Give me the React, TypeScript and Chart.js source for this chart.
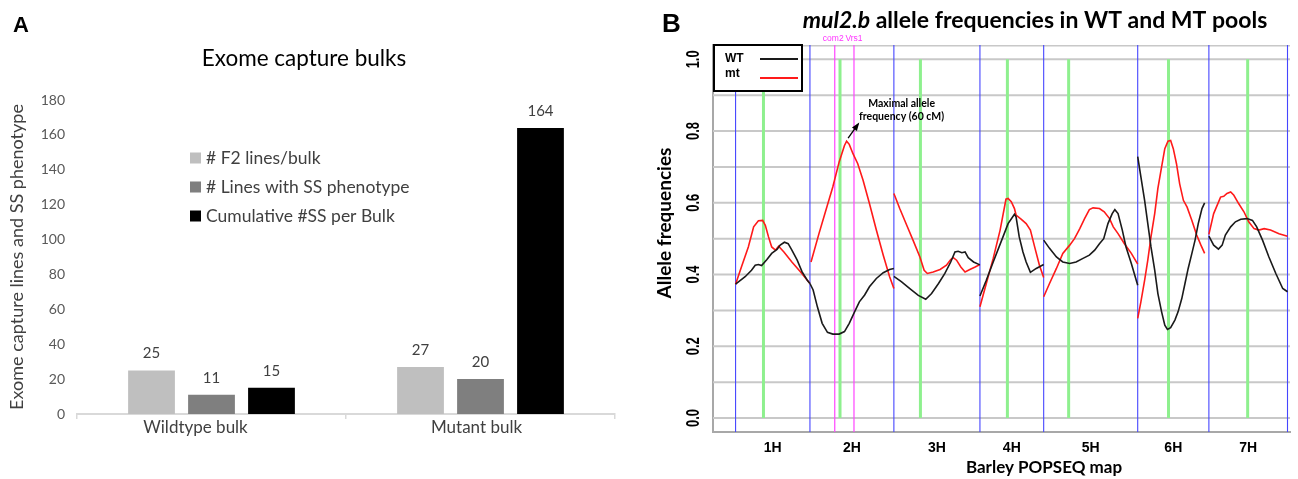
import React, { useEffect, useRef } from "react";
import { Chart, registerables } from "chart.js";
Chart.register(...registerables);

// ---------- Panel A data ----------
const BULKS = ["Wildtype bulk", "Mutant bulk"];
const SERIES_LABELS = ["# F2 lines/bulk", "# Lines with SS phenotype", "Cumulative #SS per Bulk"];
const SERIES_COLORS = ["#bfbfbf", "#7f7f7f", "#000000"];
const F2_LINES_PER_BULK = [25, 27];
const LINES_WITH_SS = [11, 20];
const CUMULATIVE_SS = [15, 164];
const BULK_Y_MAX = 180;
const BULK_Y_STEP = 20;

// ---------- Panel B data ----------
const CHROMOSOMES = ["1H", "2H", "3H", "4H", "5H", "6H", "7H"];
const CHROM_LENGTHS_CM = [140, 158, 162, 120, 177, 134, 148];
const CENTROMERES_CM = [52.5, 56.6, 50, 51.7, 47, 58, 73];
const GENES = ["com2", "Vrs1"];
const GENE_CHROM_INDEX = [1, 1];
const GENE_POS_CM = [46.7, 82.9];
const FREQ_GRID = [0, 0.1, 0.2, 0.3, 0.4, 0.5, 0.6, 0.7, 0.8, 0.9, 1.0];
const FREQ_TICK_LABELS = [0, 0.2, 0.4, 0.6, 0.8, 1.0];
const POOL_NAMES = ["WT", "mt"];
const POOL_COLORS = ["#1a1a1a", "#ff1a1a"];
const PEAK_NOTE = ["Maximal allele", "frequency (60 cM)"];
const PEAK_CHROM_INDEX = 1;

// [position within chromosome (cM), allele frequency]
const WT_1H = [[0,.373],[18,.394],[30,.412],[37,.426],[43,.428],[49,.425],[59,.442],[68,.459],[78,.470],[84,.482],[92,.490],[99,.486],[106,.468],[116,.440],[125,.408],[135,.384],[140,.375]];
const WT_2H = [[0,.375],[6,.357],[14,.310],[23,.264],[33,.239],[43,.234],[55,.234],[65,.241],[74,.264],[84,.296],[93,.324],[103,.343],[112,.366],[125,.389],[138,.405],[150,.414],[158,.417]];
const WT_3H = [[0,.395],[14,.380],[30,.361],[46,.342],[60,.331],[71,.347],[84,.375],[96,.403],[107,.435],[115,.463],[121,.465],[128,.461],[134,.463],[140,.447],[150,.435],[162,.427]];
const WT_4H = [[0,.340],[12,.384],[25,.435],[41,.496],[53,.542],[65,.568],[68,.561],[74,.505],[81,.463],[87,.435],[95,.406],[106,.417],[120,.428]];
const WT_5H = [[0,.496],[11,.473],[24,.449],[36,.435],[49,.431],[61,.435],[74,.445],[86,.454],[96,.468],[105,.486],[113,.500],[121,.542],[129,.570],[134,.581],[140,.570],[148,.524],[155,.477],[165,.431],[177,.370]];
const WT_6H = [[0,.729],[6,.672],[13,.607],[19,.542],[25,.477],[32,.412],[38,.347],[45,.296],[51,.259],[56,.247],[62,.252],[70,.273],[76,.296],[83,.333],[89,.375],[95,.417],[102,.459],[108,.496],[114,.542],[121,.584],[126,.600]];
const WT_7H = [[0,.507],[9,.482],[18,.471],[25,.482],[31,.510],[41,.533],[50,.547],[60,.554],[72,.556],[82,.551],[90,.533],[101,.496],[113,.449],[126,.403],[139,.361],[148,.352]];

const MT_1H = [[0,.373],[11,.421],[24,.477],[34,.533],[43,.550],[51,.551],[56,.537],[62,.505],[68,.477],[75,.468],[81,.479],[91,.463],[106,.435],[122,.408],[140,.375]];
const MT_2H = [[2,.435],[17,.514],[30,.579],[43,.644],[55,.714],[65,.760],[69,.772],[74,.763],[81,.737],[90,.709],[100,.663],[112,.598],[125,.524],[138,.454],[150,.394],[158,.361]];
const MT_3H = [[0,.626],[11,.584],[24,.538],[36,.496],[49,.449],[57,.412],[63,.403],[74,.407],[87,.414],[99,.426],[107,.442],[112,.447],[118,.440],[126,.421],[134,.407],[143,.414],[153,.421],[162,.428]];
const MT_4H = [[0,.310],[12,.375],[25,.445],[38,.524],[49,.610],[53,.612],[59,.603],[65,.584],[68,.566],[78,.554],[87,.542],[95,.524],[103,.477],[112,.426],[120,.392]];
const MT_5H = [[0,.338],[11,.375],[24,.417],[36,.459],[49,.482],[58,.500],[68,.528],[77,.556],[86,.581],[93,.586],[105,.584],[114,.575],[124,.556],[131,.533],[140,.514],[152,.486],[165,.459],[177,.429]];
const MT_6H = [[0,.278],[6,.324],[13,.384],[19,.440],[25,.505],[32,.570],[38,.640],[45,.700],[51,.751],[57,.772],[62,.774],[67,.751],[73,.709],[79,.653],[86,.607],[93,.588],[102,.551],[111,.510],[119,.482],[126,.459]];
const MT_7H = [[0,.512],[9,.570],[22,.616],[28,.618],[34,.626],[41,.630],[47,.621],[56,.598],[66,.575],[75,.547],[85,.528],[94,.524],[104,.528],[116,.524],[132,.514],[148,.507]];

const WT_BY_CHROM = [WT_1H, WT_2H, WT_3H, WT_4H, WT_5H, WT_6H, WT_7H];
const MT_BY_CHROM = [MT_1H, MT_2H, MT_3H, MT_4H, MT_5H, MT_6H, MT_7H];

const CHROM_STARTS = CHROM_LENGTHS_CM.map((_, i) => CHROM_LENGTHS_CM.slice(0, i).reduce((a, b) => a + b, 0));
const GENOME_LENGTH = CHROM_LENGTHS_CM.reduce((a, b) => a + b, 0);
const CHROM_BOUNDARIES = [...CHROM_STARTS, GENOME_LENGTH];
const CHROM_MIDS = CHROM_STARTS.map((s, i) => s + CHROM_LENGTHS_CM[i] / 2);
const X_MIN = -42.5;
const X_MAX = GENOME_LENGTH + 4.7;
const Y_MIN = -0.039;
const Y_MAX = 1.04;

function chromDatasets(byChrom: number[][][], poolIndex: number) {
  return byChrom.map((arr, i) => ({
    label: `${POOL_NAMES[poolIndex]} ${CHROMOSOMES[i]}`,
    data: arr.map(([p, f]) => ({ x: CHROM_STARTS[i] + p, y: f })),
    borderColor: POOL_COLORS[poolIndex],
    borderWidth: 1.6,
    pointRadius: 0,
    tension: 0,
    fill: false,
    order: 0,
  }));
}

function segmentDataset(points: any[], color: string, width: number, order: number) {
  return { data: points, borderColor: color, borderWidth: width, pointRadius: 0, tension: 0, fill: false, order };
}

const guideDatasets = [
  ...FREQ_GRID.map((v) => segmentDataset([{ x: X_MIN, y: v }, { x: X_MAX, y: v }], "#c8c8c8", 2, 100)),
  segmentDataset([{ x: X_MIN, y: Y_MAX }, { x: X_MAX, y: Y_MAX }], "#c8c8c8", 3, 100),
  ...CENTROMERES_CM.map((c, i) => segmentDataset([{ x: CHROM_STARTS[i] + c, y: 0 }, { x: CHROM_STARTS[i] + c, y: 1 }], "#8ef08e", 3, 90)),
  ...CHROM_BOUNDARIES.map((b) => segmentDataset([{ x: b, y: Y_MIN }, { x: b, y: Y_MAX }], "#4646ff", 1.1, 80)),
  ...GENE_POS_CM.map((p, i) => segmentDataset([{ x: CHROM_STARTS[GENE_CHROM_INDEX[i]] + p, y: Y_MIN }, { x: CHROM_STARTS[GENE_CHROM_INDEX[i]] + p, y: Y_MAX }], "#ff44ff", 1.2, 70)),
];

const LATO = "Lato, 'Open Sans', sans-serif";
const ARIAL = "'Liberation Sans', Arial, sans-serif";
const BULK_LABEL_SHIFT = [-16, -4];

const panelAPlugin = {
  id: "panelAExtras",
  afterDatasetsDraw(chart: any) {
    const ctx = chart.ctx;
    const area = chart.chartArea;
    const xs = chart.scales.x;
    ctx.save();
    ctx.font = `15px ${LATO}`;
    ctx.fillStyle = "#404040";
    ctx.textAlign = "center";
    ctx.textBaseline = "middle";
    chart.data.datasets.forEach((ds: any, i: number) => {
      const meta = chart.getDatasetMeta(i);
      meta.data.forEach((el: any, j: number) => {
        ctx.fillText(String(ds.data[j]), el.x, el.y - 17);
      });
    });
    ctx.font = `17px ${LATO}`;
    chart.data.labels.forEach((lab: string, j: number) => {
      ctx.fillText(lab, xs.getPixelForValue(j) + BULK_LABEL_SHIFT[j], area.bottom + 14);
    });
    ctx.textAlign = "left";
    ctx.font = `17.5px ${LATO}`;
    chart.data.datasets.forEach((ds: any, i: number) => {
      const y = area.top + 58 + i * 29;
      const x = area.left + 113;
      ctx.fillStyle = ds.backgroundColor;
      ctx.fillRect(x, y - 5.5, 11, 11);
      ctx.fillStyle = "#404040";
      ctx.fillText(ds.label, x + 16, y);
    });
    ctx.fillStyle = "#000";
    ctx.textAlign = "center";
    ctx.font = `22.5px ${LATO}`;
    ctx.fillText("Exome capture bulks", 304, 59);
    ctx.textAlign = "left";
    ctx.textBaseline = "alphabetic";
    ctx.font = `bold 22px ${ARIAL}`;
    ctx.fillText("A", 13, 32);
    ctx.restore();
  },
};

const panelBPlugin = {
  id: "panelBExtras",
  afterDraw(chart: any) {
    const ctx = chart.ctx;
    const { top, left } = chart.chartArea;
    const xs = chart.scales.x;
    const ys = chart.scales.y;
    ctx.save();
    // gene labels
    ctx.fillStyle = "#ff33ff";
    ctx.font = `8.5px ${ARIAL}`;
    ctx.textAlign = "center";
    ctx.textBaseline = "middle";
    GENES.forEach((g, i) => {
      const x = xs.getPixelForValue(CHROM_STARTS[GENE_CHROM_INDEX[i]] + GENE_POS_CM[i]);
      ctx.fillText(g, x + (i === 0 ? -1.5 : 0), top - 6);
    });
    // y tick labels (rotated)
    ctx.fillStyle = "#000";
    ctx.font = `bold 19px ${ARIAL}`;
    FREQ_TICK_LABELS.forEach((v) => {
      const y = ys.getPixelForValue(v);
      ctx.save();
      ctx.translate(left - 19, y);
      ctx.rotate(-Math.PI / 2);
      ctx.scale(0.68, 1);
      ctx.textAlign = "center";
      ctx.textBaseline = "middle";
      ctx.fillText(v.toFixed(1), 0, 0);
      ctx.restore();
    });
    // y title
    ctx.save();
    ctx.translate(25, 223);
    ctx.rotate(-Math.PI / 2);
    ctx.font = `bold 19px ${LATO}`;
    ctx.textAlign = "center";
    ctx.textBaseline = "middle";
    ctx.fillText("Allele frequencies", 0, 0);
    ctx.restore();
    // x title
    ctx.font = `bold 17px ${LATO}`;
    ctx.textAlign = "center";
    ctx.textBaseline = "middle";
    ctx.fillText("Barley POPSEQ map", 404, 468);
    // main title
    const part1 = "mul2.b";
    const part2 = " allele frequencies in WT and MT pools";
    ctx.font = `italic bold 23px ${LATO}`;
    const w1 = ctx.measureText(part1).width;
    ctx.font = `bold 23px ${LATO}`;
    const w2 = ctx.measureText(part2).width;
    const sx = 395 - (w1 + w2) / 2;
    ctx.textAlign = "left";
    ctx.textBaseline = "alphabetic";
    ctx.font = `italic bold 23px ${LATO}`;
    ctx.fillText(part1, sx, 28);
    ctx.font = `bold 23px ${LATO}`;
    ctx.fillText(part2, sx + w1, 28);
    // panel letter
    ctx.font = `bold 26px ${ARIAL}`;
    ctx.fillText("B", 22, 32);
    // legend box
    ctx.fillStyle = "#fff";
    ctx.fillRect(left + 1, top, 88, 46);
    ctx.strokeStyle = "#000";
    ctx.lineWidth = 2;
    ctx.strokeRect(left + 1, top, 88, 46);
    ctx.font = `bold 12px ${ARIAL}`;
    ctx.textBaseline = "middle";
    POOL_NAMES.forEach((name, i) => {
      const y = top + 14 + i * 15;
      ctx.fillStyle = "#000";
      ctx.fillText(name, left + 12, y);
      ctx.strokeStyle = POOL_COLORS[i];
      ctx.lineWidth = 2;
      ctx.beginPath();
      ctx.moveTo(left + 47, y + i * 4);
      ctx.lineTo(left + 85, y + i * 4);
      ctx.stroke();
    });
    // peak annotation (anchored to maximal mt point on 2H)
    const peakArr = MT_BY_CHROM[PEAK_CHROM_INDEX];
    const peak = peakArr.reduce((a, b) => (b[1] > a[1] ? b : a));
    const px = xs.getPixelForValue(CHROM_STARTS[PEAK_CHROM_INDEX] + peak[0]);
    const py = ys.getPixelForValue(peak[1]);
    const tx = px + 1.5, ty = py - 3;
    const hx = tx + 10, hy = ty - 14;
    ctx.strokeStyle = "#000";
    ctx.fillStyle = "#000";
    ctx.lineWidth = 1.3;
    ctx.beginPath();
    ctx.moveTo(tx, ty);
    ctx.lineTo(hx, hy);
    ctx.stroke();
    const ang = Math.atan2(hy - ty, hx - tx);
    ctx.beginPath();
    ctx.moveTo(hx + Math.cos(ang) * 2, hy + Math.sin(ang) * 2);
    ctx.lineTo(hx - Math.cos(ang - 0.45) * 7, hy - Math.sin(ang - 0.45) * 7);
    ctx.lineTo(hx - Math.cos(ang + 0.45) * 7, hy - Math.sin(ang + 0.45) * 7);
    ctx.closePath();
    ctx.fill();
    ctx.font = `bold 10.5px ${LATO}`;
    ctx.textAlign = "center";
    ctx.fillText(PEAK_NOTE[0], px + 55, py - 38);
    ctx.fillText(PEAK_NOTE[1], px + 55, py - 25);
    ctx.restore();
  },
};

export default function App() {
  const refA = useRef<HTMLCanvasElement>(null);
  const refB = useRef<HTMLCanvasElement>(null);

  useEffect(() => {
    const seriesValues = [F2_LINES_PER_BULK, LINES_WITH_SS, CUMULATIVE_SS];
    const chartA = new Chart(refA.current as HTMLCanvasElement, {
      type: "bar",
      data: {
        labels: BULKS,
        datasets: SERIES_LABELS.map((label, i) => ({
          label,
          data: seriesValues[i],
          backgroundColor: SERIES_COLORS[i],
          categoryPercentage: 0.669,
          barPercentage: 0.78,
        })),
      },
      options: {
        animation: false,
        responsive: false,
        maintainAspectRatio: false,
        layout: { padding: { left: 0, right: 25, top: 100, bottom: 0 } },
        plugins: { legend: { display: false }, tooltip: { enabled: false }, title: { display: false } },
        scales: {
          x: {
            afterFit: (s: any) => { s.height = 65; },
            grid: { display: true, drawOnChartArea: false, drawTicks: true, tickLength: 5, color: "#d9d9d9", lineWidth: 1.5, offset: true },
            border: { display: true, color: "#d9d9d9", width: 2 },
            ticks: { display: false },
          },
          y: {
            min: 0,
            max: BULK_Y_MAX,
            afterFit: (s: any) => { s.width = 77; },
            ticks: { stepSize: BULK_Y_STEP, font: { family: LATO, size: 14 }, color: "#595959", padding: 12 },
            grid: { display: false, drawTicks: false },
            border: { display: false },
            title: { display: true, text: "Exome capture lines and SS phenotype", font: { family: LATO, size: 18 }, color: "#404040", padding: { top: 6, bottom: 0 } },
          },
        },
      } as any,
      plugins: [panelAPlugin],
    });

    const chartB = new Chart(refB.current as HTMLCanvasElement, {
      type: "line",
      data: {
        datasets: [...guideDatasets, ...chromDatasets(WT_BY_CHROM, 0), ...chromDatasets(MT_BY_CHROM, 1)],
      },
      options: {
        animation: false,
        responsive: false,
        maintainAspectRatio: false,
        layout: { padding: { left: 0, right: 8, top: 45, bottom: 0 } },
        plugins: { legend: { display: false }, tooltip: { enabled: false }, title: { display: false } },
        scales: {
          x: {
            type: "linear",
            min: X_MIN,
            max: X_MAX,
            afterFit: (s: any) => { s.height = 47; },
            afterBuildTicks: (s: any) => { s.ticks = CHROM_MIDS.map((v) => ({ value: v })); },
            ticks: { callback: (_v: any, i: number) => CHROMOSOMES[i], font: { family: ARIAL, size: 14, weight: "bold" }, color: "#000", padding: 8, autoSkip: false, maxRotation: 0 },
            grid: { display: false, drawTicks: false },
            border: { display: true, color: "#a8a8a8", width: 2 },
          },
          y: {
            min: Y_MIN,
            max: Y_MAX,
            afterFit: (s: any) => { s.width = 73; },
            ticks: { display: false },
            grid: { display: false, drawTicks: false },
            border: { display: true, color: "#a8a8a8", width: 2 },
          },
        },
      } as any,
      plugins: [panelBPlugin],
    });

    return () => {
      chartA.destroy();
      chartB.destroy();
    };
  }, []);

  return (
    <div style={{ position: "fixed", left: 0, top: 0, width: 1298, height: 479, background: "#fff" }}>
      <canvas ref={refA} width={640} height={479} style={{ position: "absolute", left: 0, top: 0 }} />
      <canvas ref={refB} width={658} height={479} style={{ position: "absolute", left: 640, top: 0 }} />
    </div>
  );
}
